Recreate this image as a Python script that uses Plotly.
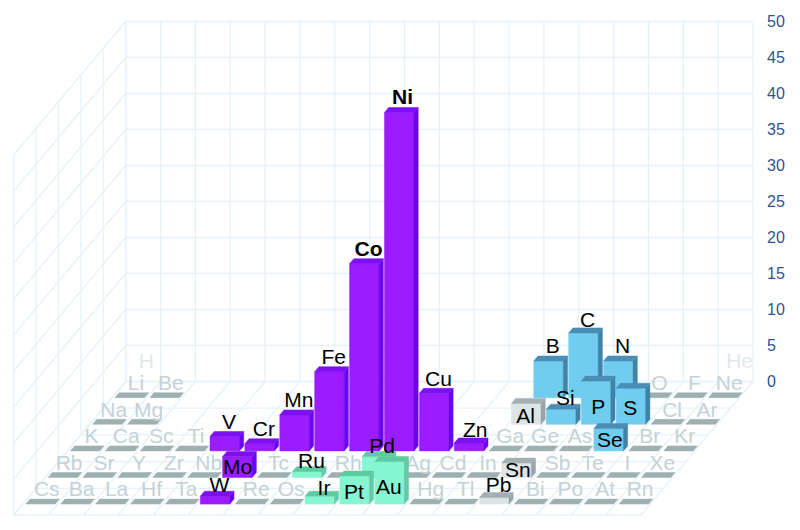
import plotly.graph_objects as go

# ---- data: one list per periodic-table row, 18 columns ("" = empty column) ----
row1_symbols = ["H"] + [""] * 16 + ["He"]
row2_symbols = ["Li", "Be", "", "", "", "", "", "", "", "", "", "", "B", "C", "N", "O", "F", "Ne"]
row3_symbols = ["Na", "Mg", "", "", "", "", "", "", "", "", "", "", "Al", "Si", "P", "S", "Cl", "Ar"]
row4_symbols = ["K", "Ca", "Sc", "Ti", "V", "Cr", "Mn", "Fe", "Co", "Ni", "Cu", "Zn", "Ga", "Ge", "As", "Se", "Br", "Kr"]
row5_symbols = ["Rb", "Sr", "Y", "Zr", "Nb", "Mo", "Tc", "Ru", "Rh", "Pd", "Ag", "Cd", "In", "Sn", "Sb", "Te", "I", "Xe"]
row6_symbols = ["Cs", "Ba", "La", "Hf", "Ta", "W", "Re", "Os", "Ir", "Pt", "Au", "Hg", "Tl", "Pb", "Bi", "Po", "At", "Rn"]

row2_values = [0, 0, 0, 0, 0, 0, 0, 0, 0, 0, 0, 0, 5.1, 9, 5.1, 0, 0, 0]
row3_values = [0, 0, 0, 0, 0, 0, 0, 0, 0, 0, 0, 0, 2.9, 2.1, 6, 5, 0, 0]
row4_values = [0, 0, 0, 0, 2, 1, 5, 11, 26, 47, 8, 1.1, 0, 0, 0, 3.1, 0, 0]
row5_values = [0, 0, 0, 0, 0, 2.9, 0, 0.8, 0, 2.9, 0, 0, 0, 2, 0, 0, 0, 0]
row6_values = [0, 0, 0, 0, 0, 1.1, 0, 0, 1.1, 3.9, 5.9, 0, 0, 0.9, 0, 0, 0, 0]

purple_group = ["V", "Cr", "Mn", "Fe", "Co", "Ni", "Cu", "Zn", "Mo", "W"]
green_group = ["Ru", "Pd", "Ir", "Pt", "Au"]
blue_group = ["B", "C", "N", "Si", "P", "S", "Se"]
gray_group = ["Al", "Sn", "Pb"]
bold_labels = ["Co", "Ni"]
y_ticks = [0, 5, 10, 15, 20, 25, 30, 35, 40, 45, 50]

# ---- projection: oblique view of the table onto the plot ----
PX_PER_UNIT = 7.2
Y0_PX = 381.5
COL_DX, ROW_DX, ROW_DY = 34.9, -22.3, 26.6
BAR_W, DEPTH_DX, DEPTH_DY = 29.5, 4.2, 5.0
X0, FIRST_ROW_DY = 115.0, 16.2
PLOT_W = 766


def sx(col, row):
    return X0 + COL_DX * col + ROW_DX * row


def sy(row, h=0.0):
    return h - (FIRST_ROW_DY + ROW_DY * row) / PX_PER_UNIT


def px(dy):
    return dy / PX_PER_UNIT


GRID = "#e6f2fa"
PALETTE = {
    "purple": ("#9a1cff", "#6a06ec", "#7c10f2"),
    "green": ("#86f5d2", "#63c9a6", "#5ccca0"),
    "blue": ("#70cdef", "#3f83a8", "#4a8db5"),
    "gray": ("#dbe4e7", "#98a5a8", "#a3afb2"),
}

fig = go.Figure()

# ---- walls and floor grid ----
wx, wy = [], []
back_l, depth_x, floor_h = 125.7, -22.4, -26.7
n_cols, n_depth = 18, 5
top = y_ticks[-1]
for i in range(n_cols + 1):
    x = back_l + 34.85 * i
    wx += [x, x, None, x, x + depth_x * n_depth, None]
    wy += [top, 0, None, 0, px(floor_h * n_depth), None]
for v in y_ticks:
    wx += [back_l, back_l + 34.85 * n_cols, None, back_l, back_l + depth_x * n_depth, None]
    wy += [v, v, None, v, v + px(floor_h * n_depth), None]
for k in range(n_depth + 1):
    xl = back_l + depth_x * k
    wx += [xl, xl + 34.85 * n_cols, None]
    wy += [px(floor_h * k), px(floor_h * k), None]
    wx += [xl, xl, None]
    wy += [px(floor_h * k), top + px(floor_h * k), None]
fig.add_trace(go.Scatter(x=wx, y=wy, mode="lines", line=dict(color=GRID, width=1.3), hoverinfo="skip"))


def group_of(sym):
    if sym in purple_group:
        return "purple"
    if sym in green_group:
        return "green"
    if sym in blue_group:
        return "blue"
    if sym in gray_group:
        return "gray"
    return None


def poly(xs, ys, color):
    fig.add_trace(go.Scatter(x=xs + xs[:1], y=ys + ys[:1], mode="lines", fill="toself", fillcolor=color,
                             line=dict(color=color, width=0.5), hoverinfo="skip"))


# label placement: screen offsets from the bar's top-front-left corner
LABEL_DROP = 2
LABEL_ABOVE = (19, -15)
LABEL_PLATE = (21, -15)
LABEL_NUDGE = {
    "Mo": (15, 10), "Pt": (14, 16), "Au": (14, 25), "P": (17, 26), "S": (14, 19), "Al": (14, 12),
    "Se": (16, 11), "Sn": (16, 7), "Si": (19, -11), "Pb": (19, -13), "Ru": (19, -11), "Ir": (19, -8),
    "W": (19, -11), "Pd": (20, -11), "Zn": (21, -13), "C": (19, -13), "Ni": (18, -16), "Co": (19, -15),
}


def draw_label(x, y, sym, color, bold=False, size=21):
    text = f"<b>{sym}</b>" if bold else sym
    fig.add_trace(go.Scatter(x=[x], y=[y - px(LABEL_DROP)], mode="text", text=[text], textposition="middle center",
                             textfont=dict(family="Liberation Sans", size=size, color=color), hoverinfo="skip"))


# H and He sit behind the back wall: faint labels only
for sym, col in (("H", row1_symbols.index("H")), ("He", row1_symbols.index("He"))):
    draw_label(sx(col, -1) + 9, sy(-1) - px(-10), sym, "#dfe9ec")

rows = [(0, row2_symbols, row2_values), (1, row3_symbols, row3_values), (2, row4_symbols, row4_values),
        (3, row5_symbols, row5_values), (4, row6_symbols, row6_values)]

for r, syms, vals in rows:
    # flat plates first
    for c, (s, v) in enumerate(zip(syms, vals)):
        if s and group_of(s) is None:
            x = sx(c, r)
            base = sy(r)
            poly([x, x + BAR_W, x + BAR_W + DEPTH_DX, x + DEPTH_DX],
                 [base, base, base + px(DEPTH_DY), base + px(DEPTH_DY)], "#9fb0b3")
            draw_label(x + LABEL_PLATE[0], base - px(LABEL_PLATE[1]), s, "#c4d2d6")
    for c, (s, v) in enumerate(zip(syms, vals)):
        g = group_of(s) if s else None
        if g is None:
            continue
        front, side, topc = PALETTE[g]
        x = sx(c, r)
        base = sy(r)
        t = sy(r, v)
        d = px(DEPTH_DY)
        poly([x, x + BAR_W, x + BAR_W, x], [base, base, t, t], front)
        poly([x + BAR_W, x + BAR_W + DEPTH_DX, x + BAR_W + DEPTH_DX, x + BAR_W],
             [base, base + d, t + d, t], side)
        poly([x, x + BAR_W, x + BAR_W + DEPTH_DX, x + DEPTH_DX], [t, t, t + d, t + d], topc)
        ox, oy = LABEL_NUDGE.get(s, LABEL_ABOVE)
        draw_label(x + ox, t - px(oy), s, "#000000", bold=s in bold_labels)

fig.update_layout(
    width=800, height=530, autosize=False, showlegend=False,
    paper_bgcolor="white", plot_bgcolor="white",
    margin=dict(l=0, r=800 - PLOT_W, t=0, b=0),
    xaxis=dict(range=[0, PLOT_W], visible=False, fixedrange=True),
    yaxis=dict(range=[(Y0_PX - 530) / PX_PER_UNIT, Y0_PX / PX_PER_UNIT], side="right", tickvals=y_ticks,
               showgrid=False, zeroline=False, showline=False, ticks="", fixedrange=True,
               tickfont=dict(family="Liberation Sans", size=16, color="#2b5590")),
)
fig.write_html("out.html", config={"displayModeBar": False},
               post_script="document.body.style.margin='0';")
